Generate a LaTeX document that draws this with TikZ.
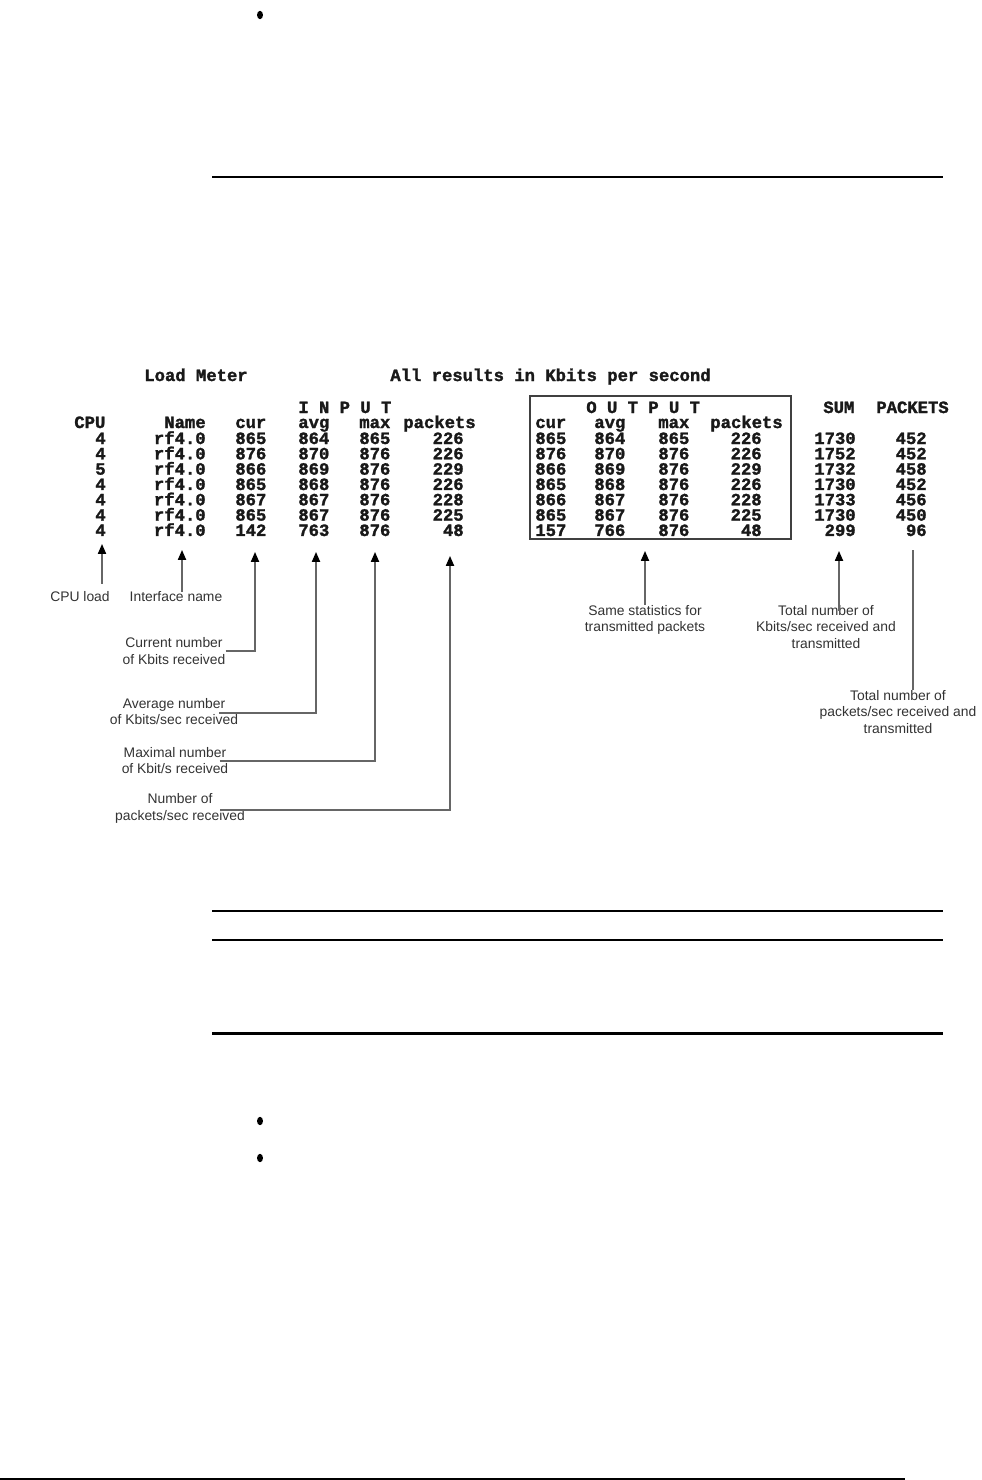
\documentclass[tikz,border=0pt]{standalone}
\usepackage{fontspec}
\setmainfont{Liberation Sans}
\newfontfamily\termfont[BoldFeatures={FakeBold=1.6}]{Liberation Mono}
\usepackage{tikz}
\usetikzlibrary{arrows.meta}
\usetikzlibrary{calc}
\usetikzlibrary{positioning}
\tikzset{
    term/.style = {inner sep=0pt, text=black!90, font=\termfont\bfseries\fontsize{9.8}{10}\selectfont},
    termw/.style = {term, anchor=base west},
    terme/.style = {term, anchor=base east},
    note/.style = {inner sep=0pt, align=center, text=black!80, font=\fontsize{7.9}{9.4}\selectfont},
    arr/.style = {-{Triangle[width=4.6pt,length=5.6pt,color=black,fill=black]}, line width=0.85pt, draw=black!60},
    lead/.style = {-, line width=0.85pt, draw=black!60},
    pagerule/.style = {line width=0.6pt, black},
    pagerulethick/.style = {line width=1.7pt, black},
}
\begin{document}
\begin{tikzpicture}[
	x=0.02cm,
	y=-0.02cm
]
\useasboundingbox (0,0) rectangle (981,1480);
% page furniture
\fill (260,15) ellipse [x radius=1.7pt, y radius=2.4pt];
\draw[pagerulethick] (212,177) -- (943,177);
\draw[pagerule] (212,911) -- (943,911);
\draw[pagerule] (212,940) -- (943,940);
\draw[pagerulethick] (212,1033) -- (943,1033);
\fill (260,1121) ellipse [x radius=1.7pt, y radius=2.4pt];
\fill (260,1158) ellipse [x radius=1.7pt, y radius=2.4pt];
\draw[pagerule] (0,1479) -- (905,1479);
%
% headings
\node[termw] (title) at (144,381) {Load Meter};
\node[termw] (units) at (390,381) {All results in Kbits per second};
\node[termw] (input) at (298,413) {I N P U T};
\node[termw] (output) at (586,413) {O U T P U T};
\node[termw] (hsum) at (823,413) {SUM};
\node[termw] (hpackets) at (876,413) {PACKETS};
\node[termw] (hcpu) at (74,428) {CPU};
\node[terme] (hname) at (206,428) {Name};
\node[termw] (hcur) at (235,428) {cur};
\node[termw] (havg) at (298,428) {avg};
\node[termw] (hmax) at (359,428) {max};
\node[termw] (hpk) at (403,428) {packets};
\node[termw] (hocur) at (535,428) {cur};
\node[termw] (hoavg) at (594,428) {avg};
\node[termw] (homax) at (658,428) {max};
\node[termw] (hopk) at (710,428) {packets};
%
% rows
\foreach \cp/\cu/\av/\mx/\pk/\ocu/\oav/\omx/\opk/\tot/\tpk [count=\i] in {
	4/865/864/865/226/865/864/865/226/1730/452,
	4/876/870/876/226/876/870/876/226/1752/452,
	5/866/869/876/229/866/869/876/229/1732/458,
	4/865/868/876/226/865/868/876/226/1730/452,
	4/867/867/876/228/866/867/876/228/1733/456,
	4/865/867/876/225/865/867/876/225/1730/450,
	4/142/763/876/48/157/766/876/48/299/96}
{
	\pgfmathsetmacro{\y}{444+15.33*(\i-1)}
	\node[terme] (cpu-\i) at (106,\y) {\cp};
	\node[terme] (name-\i) at (206,\y) {rf4.0};
	\node[termw] (cur-\i) at (235,\y) {\cu};
	\node[termw] (avg-\i) at (298,\y) {\av};
	\node[termw] (max-\i) at (359,\y) {\mx};
	\node[terme] (pk-\i) at (464,\y) {\pk};
	\node[termw] (ocur-\i) at (535,\y) {\ocu};
	\node[termw] (oavg-\i) at (594,\y) {\oav};
	\node[termw] (omax-\i) at (658,\y) {\omx};
	\node[terme] (opk-\i) at (762,\y) {\opk};
	\node[terme] (tot-\i) at (856,\y) {\tot};
	\node[terme] (tpk-\i) at (927,\y) {\tpk};
}
\draw[line width=0.85pt, black!75] (530,396) rectangle (791,539);
%
% callouts
\coordinate (tcpu) at (102,544);
\coordinate (tname) at (182,550);
\coordinate (tcur) at (255,552);
\coordinate (tavg) at (316,552);
\coordinate (tmax) at (375,552);
\coordinate (tpk) at (450,556);
\coordinate (tout) at (645,551);
\coordinate (ttot) at (839,551);
\coordinate (ttpk) at (913,550);
%
\node[note] (lcpu) at (80,597) {CPU load};
\node[note] (lname) at (176,597) {Interface name};
\node[note] (lcur) at (174,651) {Current number\\of Kbits received};
\node[note] (lavg) at (174,711.5) {Average number\\of Kbits/sec received};
\node[note] (lmax) at (175,760.5) {Maximal number\\of Kbit/s received};
\node[note] (lpk) at (180,808.5) {Number of\\packets/sec received};
\node[note] (lout) at (645,620) {Same statistics for\\transmitted packets};
\node[note] (ltot) at (826,627) {Total number of\\Kbits/sec received and\\transmitted};
\node[note] (ltpk) at (898,712) {Total number of\\packets/sec received and\\transmitted};
%
\draw[arr] ($(tcpu |- lcpu.north)+(0,-8)$) -- (tcpu);
\draw[arr] (tname |- lname.north) -- (tname);
\draw[arr] (lcur.east) -| (tcur);
\draw[arr] ($(lavg.east)+(-19,1.5)$) -| (tavg);
\draw[arr] ($(lmax.east)+(-9,0.5)$) -| (tmax);
\draw[arr] ($(lpk.east)+(-25,1.5)$) -| (tpk);
\draw[arr] (tout |- lout.north) -- (tout);
\draw[arr] ($(ttot |- ltot.north)+(0,6)$) -- (ttot);
\draw[lead] (ttpk |- ltpk.north) -- (ttpk);
\end{tikzpicture}
\end{document}
